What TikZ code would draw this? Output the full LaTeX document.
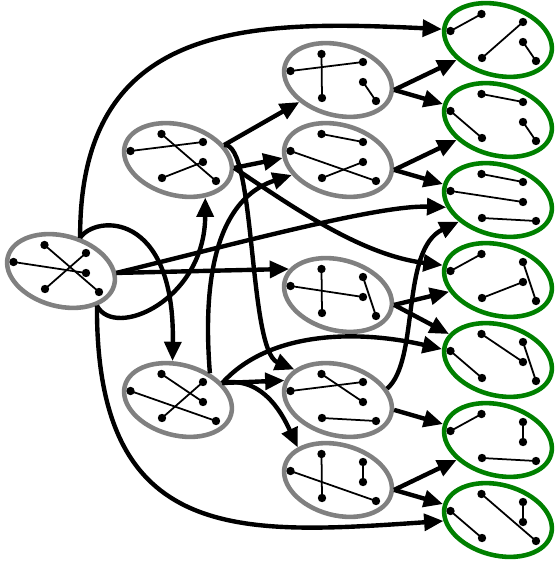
\documentclass[tikz,border=0pt]{standalone}
\usetikzlibrary{shapes.geometric,arrows.meta}
\begin{document}
\begin{tikzpicture}[x=0.02cm, y=0.02cm,
    blob/.style={ellipse, draw=gray, line width=2.6pt, minimum width=2.2cm,
      minimum height=1.41cm, inner sep=0pt, rotate=-15},
    gedge/.style={line width=1pt},
    arr/.style={line width=2.5pt, -{Triangle[length=11pt, width=9.5pt]}}]
  \useasboundingbox (0,0) rectangle (558,-561);
  \foreach \n/\x/\y/\col/\es in {s/61/271/gray/{a/f,c/d,b/e},
      m1/178/160/gray/{a/f,c/b,e/d}, m2/178/400/gray/{a/d,c/f,e/b},
      r1/338/80/gray/{a/e,c/b,d/f}, r2/338/160/gray/{a/b,c/f,e/d},
      r3/338/295/gray/{a/e,c/d,b/f}, r4/338/400/gray/{a/d,c/b,e/f},
      r5/338/480/gray/{a/e,b/d,c/f},
      g1/498/40/green!50!black/{c/a,e/b,d/f}, g2/498/120/green!50!black/{a/b,c/e,d/f},
      g3/498/200/green!50!black/{a/b,c/d,e/f}, g4/498/280/green!50!black/{c/a,e/d,b/f},
      g5/498/360/green!50!black/{a/d,c/e,b/f}, g6/498/440/green!50!black/{c/a,b/d,e/f},
      g7/498/520/green!50!black/{a/f,b/d,c/e}} {
    \node[blob, draw=\col] (\n) at (\x,-\y) {};
    \foreach \p/\dx/\dy in {a/-16.5/26, b/25/18, c/-47.5/9, d/25/-2, e/-16/-18, f/38/-21}
      \coordinate (\n\p) at ([shift={(\dx,\dy)}]\n.center);
    \foreach \u/\v in \es
      \draw[gedge] (\n\u) -- (\n\v);
    \foreach \p in {a,...,f}
      \fill (\n\p) circle (4.2);
  }
  \foreach \a/\b in {s.13/r3.167, m1.33/r1, m1.7/r2.193, m2.36/r4.175,
      r1.5/g1, r1.5/g2, r2.5/g2, r2.5/g3, r3.5/g4, r3.5/g5,
      r4.5/g6, r5.5/g6, r5.5/g7}
    \draw[arr] (\a) -- (\b);
  \draw[arr] (s.75) .. controls (79,-20) and (250,-20) .. (g1.184);
  \draw[arr] (s.-29) .. controls (96,-545) and (240,-535) .. (g7.196);
  \draw[arr] (s.75) .. controls (95,-215) and (175,-210) .. (m2.113);
  \draw[arr] (s.-29) .. controls (115,-340) and (205,-300) .. (m1.-39);
  \draw[arr] (s.13) .. controls (250,-240) and (380,-205) .. (g3.203);
  \draw[arr] (m1.33) .. controls (256,-142) and (248,-350) .. (r4.160);
  \draw[arr] (m1.7) .. controls (290,-205) and (360,-255) .. (g4.180);
  \draw[arr] (m2.55) .. controls (200,-250) and (230,-195) .. (r2.213);
  \draw[arr] (m2.36) .. controls (270,-330) and (360,-330) .. (g5.184);
  \draw[arr] (m2.36) .. controls (265,-375) and (285,-420) .. (r5.156);
  \draw[arr] (r4.28) .. controls (420,-360) and (400,-250) .. (g3.224);
\end{tikzpicture}
\end{document}
